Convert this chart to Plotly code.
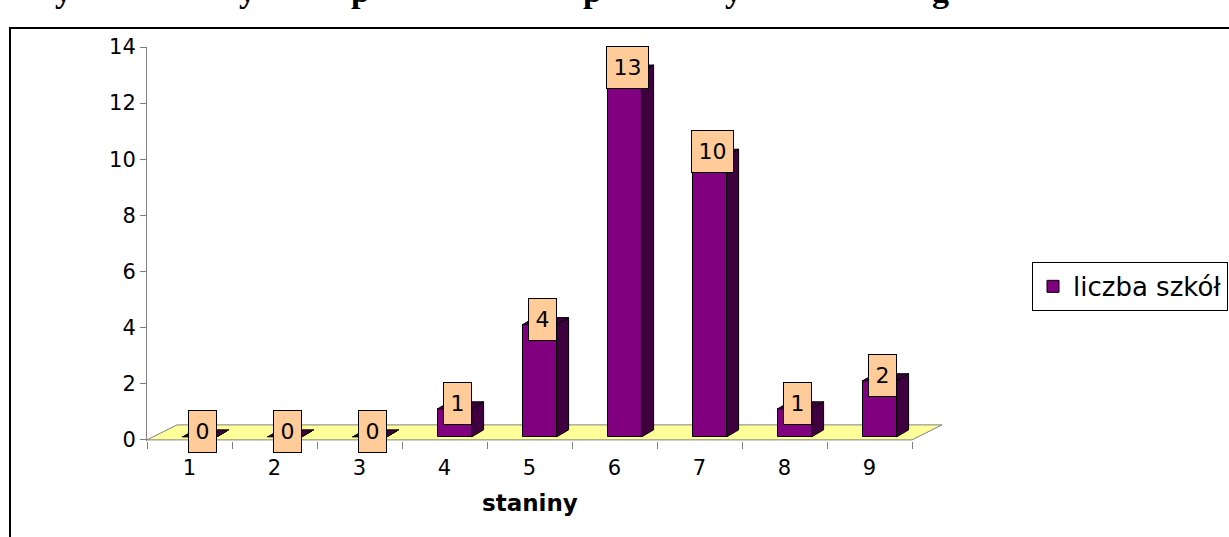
import plotly.graph_objects as go

# ---- data ----
categories = [1, 2, 3, 4, 5, 6, 7, 8, 9]
counts = [0, 0, 0, 1, 4, 13, 10, 1, 2]
y_tick_values = [0, 2, 4, 6, 8, 10, 12, 14]
series_name = "liczba szkół"
x_axis_title = "staniny"
title_fragments = ["y", "y", "p", "p", "y", "g"]

# ---- styling / geometry (3D look) ----
W, H = 1229, 537
PL, PR, PT, PB = 147, 946, 47, 441.1      # plot area pixels
X_RANGE = [0.5, 9.9]
Y_RANGE = [-0.04, 14]
BASE = 0.107
FACE_L, FACE_W = -0.08, 0.40
DX, DY = 0.14, 0.25
FLOOR_DX, FLOOR_DY = 0.353, 0.534
FRONT = "#800080"
DARK = "#3f003f"
FONT = "DejaVu Sans"


def px_x(p):
    return (p - PL) / (PR - PL)


def px_y(p):
    return (PB - p) / (PB - PT)


fig = go.Figure()

# front faces
fig.add_trace(go.Bar(
    x=categories, y=counts, base=BASE, width=FACE_W, offset=FACE_L,
    marker=dict(color=FRONT, line=dict(color="black", width=1)),
    name=series_name, showlegend=True, hoverinfo="skip",
))

# side & top faces
sx, sy, tx, ty = [], [], [], []
for c, v in zip(categories, counts):
    x0 = c + FACE_L
    x1 = x0 + FACE_W
    y0 = BASE
    y1 = BASE + v
    sx += [x1, x1 + DX, x1 + DX, x1, x1, None]
    sy += [y0, y0 + DY, y1 + DY, y1, y0, None]
    tx += [x0, x1, x1 + DX, x0 + DX, x0, None]
    ty += [y1, y1, y1 + DY, y1 + DY, y1, None]

for xs, ys in ((sx, sy), (tx, ty)):
    fig.add_trace(go.Scatter(
        x=xs, y=ys, mode="lines", fill="toself", fillcolor=DARK,
        line=dict(color="black", width=1), showlegend=False, hoverinfo="skip",
    ))

# invisible trace for the boundary tick axis
fig.add_trace(go.Scatter(x=[categories[0]], y=[0], xaxis="x2", mode="markers",
                         marker=dict(opacity=0), showlegend=False, hoverinfo="skip"))

# floor
x_lo, x_hi = categories[0] - 0.5, categories[-1] + 0.5
fig.add_shape(
    type="path", xref="x", yref="y", layer="below",
    path=f"M {x_lo},0 L {x_hi},0 L {x_hi + FLOOR_DX},{FLOOR_DY} L {x_lo + FLOOR_DX},{FLOOR_DY} Z",
    fillcolor="#ffff99", line=dict(color="#808080", width=1),
)

# frame
fig.add_shape(type="rect", xref="paper", yref="paper", layer="below",
              x0=px_x(10), x1=px_x(1245), y0=px_y(560), y1=px_y(28),
              line=dict(color="black", width=2), fillcolor="rgba(0,0,0,0)")

# value labels
for c, v in zip(categories, counts):
    txt = str(v)
    fig.add_annotation(
        x=c + FACE_L + FACE_W / 2 + 0.035, y=v + BASE + 0.18, xref="x", yref="y",
        text=txt, showarrow=False, xanchor="center", yanchor="middle",
        bgcolor="#ffcc99", bordercolor="black", borderwidth=1, borderpad=0,
        width=13 + 14 * len(txt), height=41,
        font=dict(family=FONT, size=22, color="black"),
    )

# x axis title
fig.add_annotation(x=(x_lo + x_hi) / 2, xref="x", y=px_y(503), yref="paper",
                   text=f"<b>{x_axis_title}</b>", showarrow=False,
                   xanchor="center", yanchor="middle",
                   font=dict(family=FONT, size=23, color="black"))

# cut-off title (only its descenders are visible above the frame)
for ch, p in zip(title_fragments, [63, 247, 360, 592, 733, 940]):
    fig.add_annotation(x=px_x(p), y=px_y(11), xref="paper", yref="paper",
                       text=f"<b>{ch}</b>", showarrow=False,
                       xanchor="center", yanchor="bottom",
                       font=dict(family="Liberation Serif", size=34, color="black"))

fig.update_layout(
    width=W, height=H,
    margin=dict(l=PL, r=W - PR, t=PT, b=H - PB, pad=0, autoexpand=False),
    paper_bgcolor="white", plot_bgcolor="white",
    showlegend=True,
    legend=dict(x=px_x(1032), y=px_y(262), xanchor="left", yanchor="top",
                bordercolor="black", borderwidth=1, bgcolor="white",
                font=dict(family=FONT, size=26, color="black")),
    xaxis=dict(range=X_RANGE, tickvals=categories, ticktext=[str(c) for c in categories],
               ticks="", showline=False, showgrid=False, zeroline=False,
               ticklabelstandoff=12,
               tickfont=dict(family=FONT, size=21, color="black")),
    xaxis2=dict(range=X_RANGE, overlaying="x", side="bottom",
                tickvals=[c - 0.5 for c in categories] + [categories[-1] + 0.5],
                ticks="outside", ticklen=7, tickcolor="#808080", tickwidth=1,
                showticklabels=False, showline=False, showgrid=False, zeroline=False),
    yaxis=dict(range=Y_RANGE, tickvals=y_tick_values, showline=True, linecolor="#808080",
               linewidth=1, ticks="outside", ticklen=6, tickcolor="#808080",
               showgrid=False, zeroline=False,
               tickfont=dict(family=FONT, size=21, color="black")),
    bargap=0,
)

fig.write_html("out.html", config={"displayModeBar": False},
               post_script="document.body.style.margin='0';document.body.style.overflow='hidden';")
